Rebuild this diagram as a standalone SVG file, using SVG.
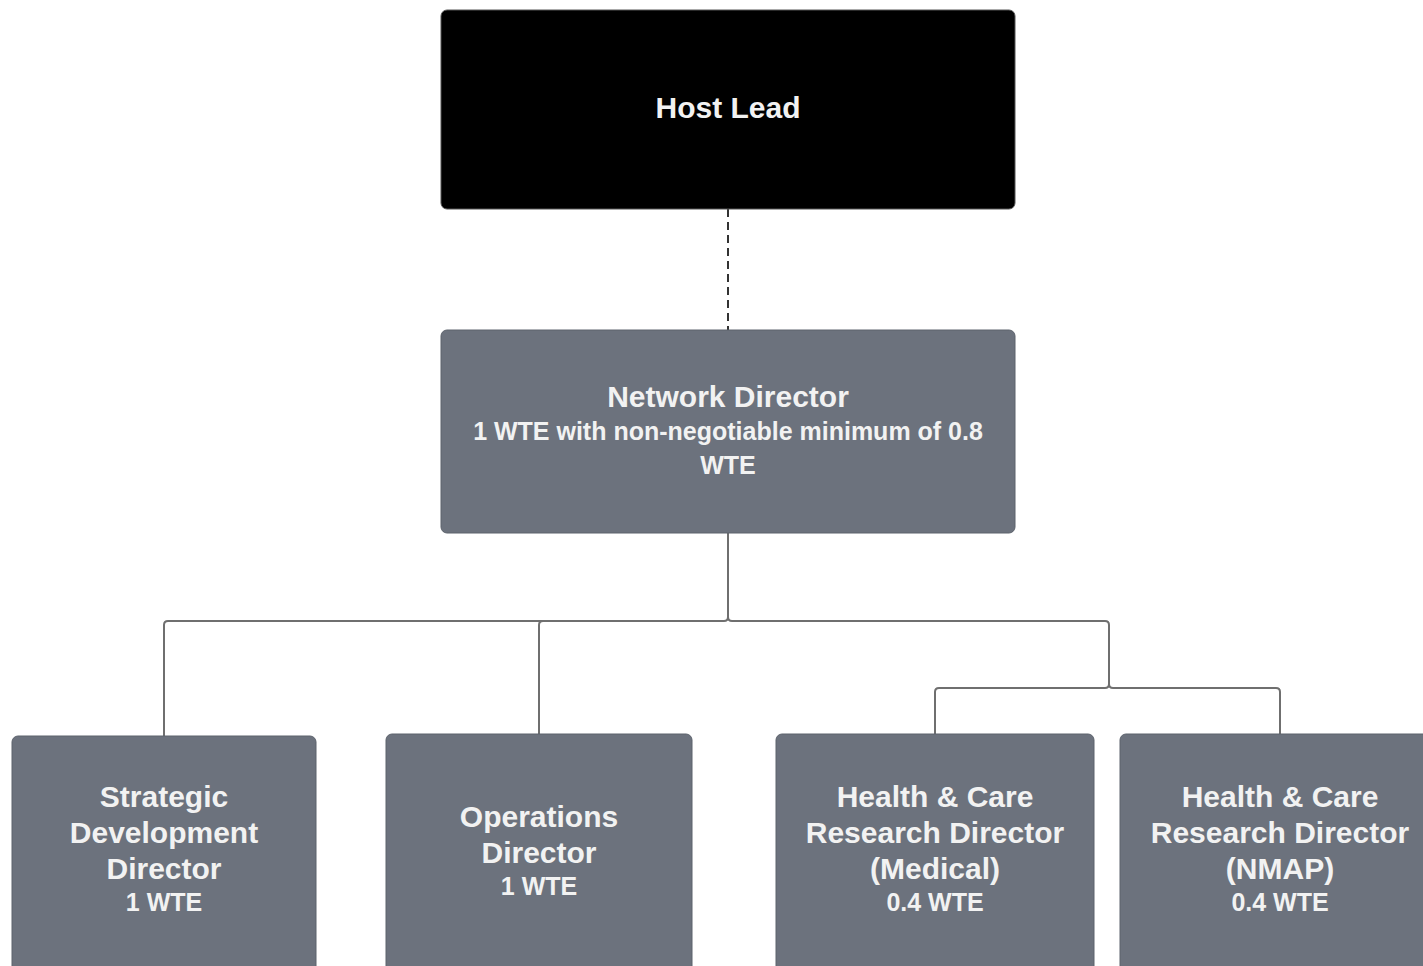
<svg xmlns="http://www.w3.org/2000/svg" width="1423" height="966" viewBox="0 0 1423 966">
<style>
.box{fill:#6c727d;stroke:#5c626c;stroke-width:1}
.dark{fill:#000;stroke:#555;stroke-width:1}
.t{font-family:"Liberation Sans",Arial,sans-serif;font-weight:bold;fill:#f2f2f2;text-anchor:middle}
.big{font-size:30px}
.small{font-size:25px}
.conn{fill:none;stroke:#6f6f6f;stroke-width:2}
.dash{fill:none;stroke:#333;stroke-width:2;stroke-dasharray:8 5}
</style>
<rect width="1423" height="966" fill="#fff"/>
<g id="connectors">
<path class="dash" d="M728 209 V330"/>
<path class="conn" d="M728 533 V617 Q728 621 724 621 H168 Q164 621 164 625 V736"/>
<path class="conn" d="M728 617 Q728 621 732 621 H1105 Q1109 621 1109 625 V684 Q1109 688 1105 688 H939 Q935 688 935 692 V734"/>
<path class="conn" d="M543 621 Q539 621 539 625 V734"/>
<path class="conn" d="M1109 684 Q1109 688 1113 688 H1276 Q1280 688 1280 692 V734"/>
</g>
<g id="host-lead">
<rect class="dark" x="441" y="10" width="574" height="199" rx="6"/>
<text class="t big" x="728" y="118">Host Lead</text>
</g>
<g id="network-director">
<rect class="box" x="441" y="330" width="574" height="203" rx="6"/>
<text class="t big" x="728" y="407">Network Director</text>
<text class="t small" x="728" y="440">1 WTE with non-negotiable minimum of 0.8</text>
<text class="t small" x="728" y="474">WTE</text>
</g>
<g id="strategic-development-director">
<rect class="box" x="12" y="736" width="304" height="250" rx="6"/>
<text class="t big" x="164" y="807">Strategic</text>
<text class="t big" x="164" y="843">Development</text>
<text class="t big" x="164" y="879">Director</text>
<text class="t small" x="164" y="911">1 WTE</text>
</g>
<g id="operations-director">
<rect class="box" x="386" y="734" width="306" height="252" rx="6"/>
<text class="t big" x="539" y="827">Operations</text>
<text class="t big" x="539" y="863">Director</text>
<text class="t small" x="539" y="895">1 WTE</text>
</g>
<g id="hcr-director-medical">
<rect class="box" x="776" y="734" width="318" height="252" rx="6"/>
<text class="t big" x="935" y="807">Health &amp; Care</text>
<text class="t big" x="935" y="843">Research Director</text>
<text class="t big" x="935" y="879">(Medical)</text>
<text class="t small" x="935" y="911">0.4 WTE</text>
</g>
<g id="hcr-director-nmap">
<rect class="box" x="1120" y="734" width="320" height="252" rx="6"/>
<text class="t big" x="1280" y="807">Health &amp; Care</text>
<text class="t big" x="1280" y="843">Research Director</text>
<text class="t big" x="1280" y="879">(NMAP)</text>
<text class="t small" x="1280" y="911">0.4 WTE</text>
</g>
</svg>
